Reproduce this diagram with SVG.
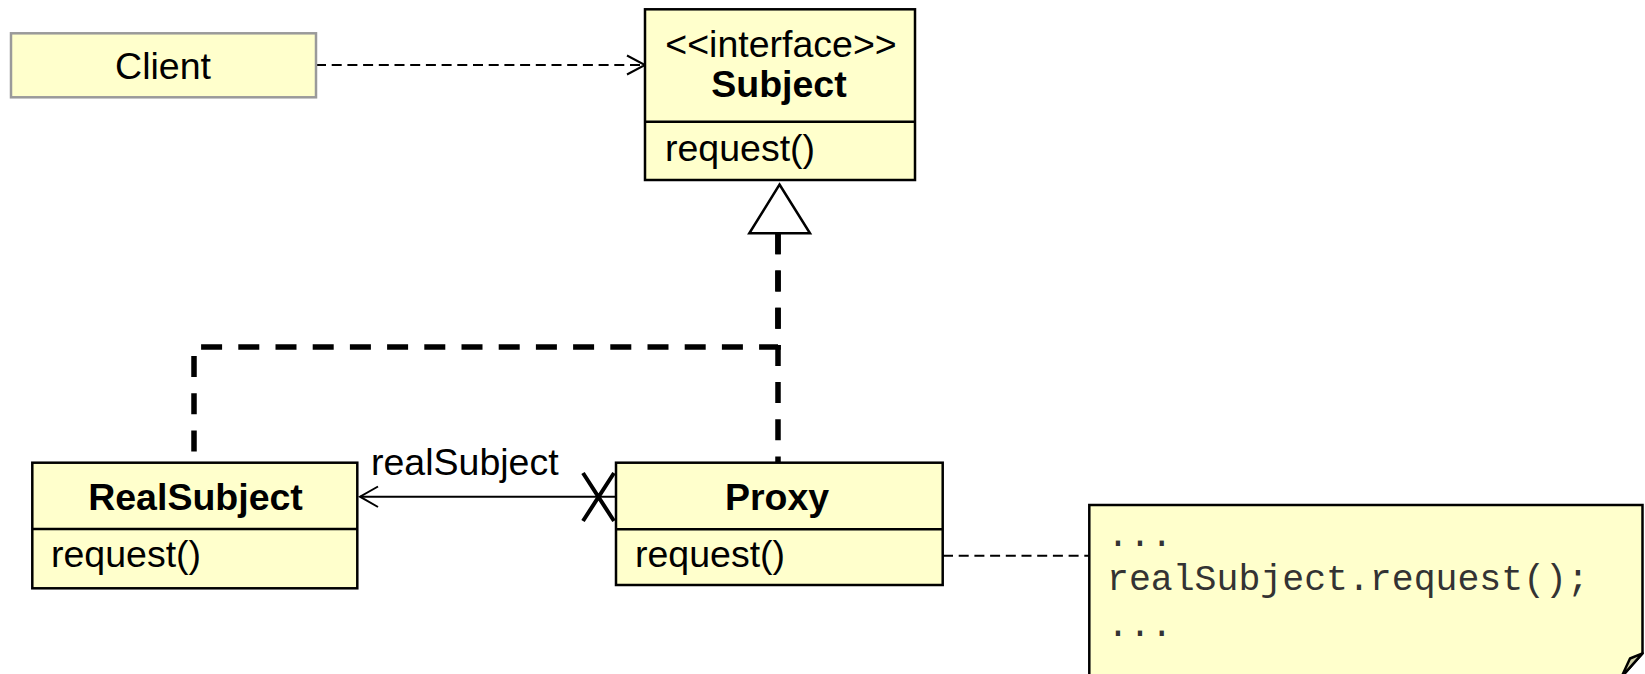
<svg xmlns="http://www.w3.org/2000/svg" width="1645" height="674" viewBox="0 0 1645 674">
  <defs>
    <style>
      .box { fill: #ffffcc; stroke: #000; stroke-width: 2.5; }
      .client { fill: #ffffcc; stroke: #9a9a9a; stroke-width: 2.5; }
      .div { stroke: #000; stroke-width: 2.5; }
      .t { font-family: "Liberation Sans", Arial, sans-serif; font-size: 37.5px; fill: #000; }
      .b { font-weight: bold; }
      .mono { font-family: "Liberation Mono", "Courier New", monospace; font-size: 36.5px; fill: #333; }
      .thin-dash { fill: none; stroke: #000; stroke-width: 2; stroke-dasharray: 10 5.7; }
      .real { fill: none; stroke: #000; stroke-width: 5.5; stroke-dasharray: 21 16.2; }
      .assoc { fill: none; stroke: #000; stroke-width: 2; }
    </style>
  </defs>
  <rect width="1645" height="674" fill="#fff"/>

  <!-- connectors -->
  <g id="connectors">
    <!-- Client depends on Subject -->
    <path class="thin-dash" d="M316,65 H644"/>
    <path class="assoc" d="M627,55.5 L645,65 L627,74.5"/>
    <!-- realizations to Subject -->
    <path class="real" d="M778,233.3 V347 H194 V462"/>
    <path class="real" d="M778,233.3 V462"/>
    <path d="M779.5,184.5 L810,233.3 L749.3,233.3 Z" fill="#fff" stroke="#000" stroke-width="2.5" stroke-linejoin="miter"/>
    <!-- Proxy -> RealSubject association -->
    <path class="assoc" d="M616,496.7 H360"/>
    <path class="assoc" d="M378,486.5 L360,496.7 L378,507"/>
    <path d="M583,473 L614,521 M614,473 L583,521" stroke="#000" stroke-width="4" fill="none"/>
    <text class="t" x="371" y="475">realSubject</text>
    <!-- note attachment -->
    <path class="thin-dash" d="M943,555.7 H1089"/>
  </g>

  <g id="client">
    <rect class="client" x="11" y="33.3" width="305" height="64"/>
    <text class="t" x="163" y="79" text-anchor="middle">Client</text>
  </g>

  <g id="subject">
    <rect class="box" x="645" y="9.3" width="270" height="170.7"/>
    <line class="div" x1="645" y1="121.7" x2="915" y2="121.7"/>
    <text class="t" x="781" y="57" text-anchor="middle">&lt;&lt;interface&gt;&gt;</text>
    <text class="t b" x="779" y="97" text-anchor="middle">Subject</text>
    <text class="t" x="665" y="161">request()</text>
  </g>

  <g id="realsubject">
    <rect class="box" x="32.3" y="462.7" width="325" height="125.6"/>
    <line class="div" x1="32.3" y1="529" x2="357.3" y2="529"/>
    <text class="t b" x="195.5" y="510" text-anchor="middle">RealSubject</text>
    <text class="t" x="51" y="567">request()</text>
  </g>

  <g id="proxy">
    <rect class="box" x="616" y="462.7" width="326.7" height="122.3"/>
    <line class="div" x1="616" y1="529.3" x2="942.7" y2="529.3"/>
    <text class="t b" x="777" y="510" text-anchor="middle">Proxy</text>
    <text class="t" x="635" y="567">request()</text>
  </g>

  <g id="note">
    <path d="M1089.3,505 H1642.5 V653.3 L1621.5,677 H1089.3 Z" fill="#ffffcc" stroke="#000" stroke-width="2.5"/>
    <path d="M1642.5,653.3 L1630,658.5 L1621.5,677 Z" fill="#cfcfa6" stroke="#000" stroke-width="2.5" stroke-linejoin="round"/>
    <text class="mono" x="1107" y="546">...</text>
    <text class="mono" x="1107" y="590">realSubject.request();</text>
    <text class="mono" x="1107" y="636">...</text>
  </g>
</svg>
